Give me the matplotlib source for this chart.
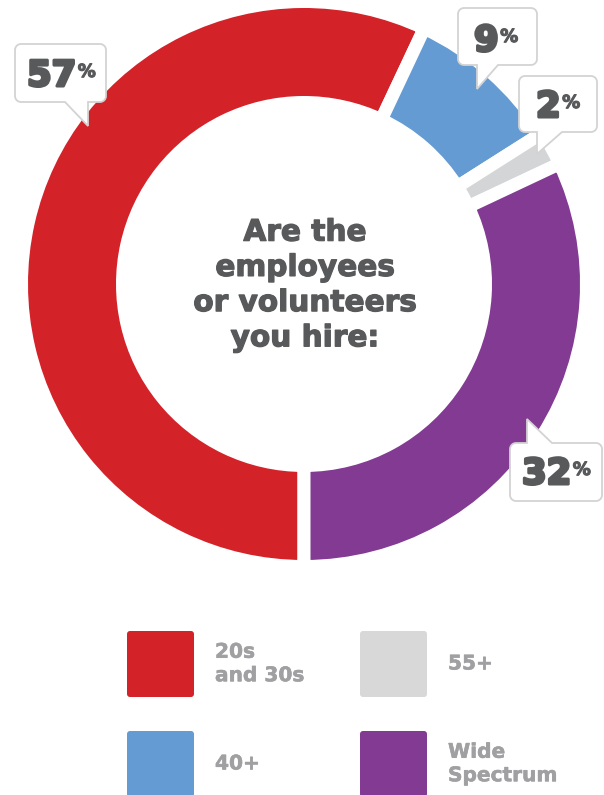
import matplotlib
matplotlib.use("Agg")
import matplotlib.pyplot as plt
from matplotlib.patches import FancyBboxPatch, Polygon
import matplotlib.patheffects as pe
import numpy as np

# ---- data ----
categories = ["20s\nand 30s", "40+", "55+", "Wide\nSpectrum"]
values = [57, 9, 2, 32]
colors = ["#D42229", "#659BD3", "#D4D5D7", "#823A93"]
legend_colors = ["#D42229", "#659BD3", "#D8D8D8", "#823A93"]
title_text = "Are the\nemployees\nor volunteers\nyou hire:"

W, H = 604, 795
fig = plt.figure(figsize=(W / 100, H / 100), dpi=100)
ax = fig.add_axes([0, 0, 1, 1])

def Y(py):
    return H - py

CX, CY = 304, 284
R_OUT, R_IN = 276, 188
GAP_PX = 13
lw_pt = GAP_PX * 72 / 100

ax.pie(values, colors=colors, startangle=-90, counterclock=False,
       center=(CX, Y(CY)), radius=R_OUT + GAP_PX / 2,
       wedgeprops=dict(width=(R_OUT - R_IN) + GAP_PX, edgecolor="white",
                       linewidth=lw_pt, joinstyle="miter"))

ax.set_xlim(0, W)
ax.set_ylim(0, H)
ax.set_aspect("equal")
ax.axis("off")

TXT = "#58595B"
FONT = "DejaVu Sans"

# center title
ax.text(CX + 1, Y(285), title_text, ha="center", va="center", fontsize=21.3,
        fontweight="bold", color=TXT, family=FONT, linespacing=1.27,
        path_effects=[pe.withStroke(linewidth=0.9, foreground=TXT)])

# ---- callouts ----
def callout(x0, y0, x1, y1, tail, r=6):
    side, xa, xb, tx, ty = tail
    pts = []
    def arc(cx, cy, a0, a1):
        for a in np.linspace(np.radians(a0), np.radians(a1), 8):
            pts.append((cx + r * np.cos(a), cy + r * np.sin(a)))
    arc(x0 + r, y0 + r, 180, 270)
    if side == "top":
        pts += [(xa, y0), (tx, ty), (xb, y0)]
    arc(x1 - r, y0 + r, 270, 360)
    arc(x1 - r, y1 - r, 0, 90)
    if side == "bottom":
        pts += [(xb, y1), (tx, ty), (xa, y1)]
    arc(x0 + r, y1 - r, 90, 180)
    poly = Polygon([(px, Y(py)) for px, py in pts], closed=True,
                   facecolor="white", edgecolor="#D3D3D3", linewidth=1.3,
                   zorder=5)
    ax.add_patch(poly)

labels = [f"{v}" for v in values]
callouts = [
    ((15, 44, 106, 102), ("bottom", 65, 88, 88, 126), (27, 86)),
    ((458, 8, 537, 65), ("bottom", 477, 498, 477, 89), (474, 51)),
    ((519, 76, 597, 132), ("bottom", 537, 562, 537, 154), (536, 117)),
    ((510, 443, 602, 501), ("top", 527, 552, 527, 419), (522, 484)),
]
for lab, (box, tail, (bx, by)) in zip(labels, callouts):
    callout(*box, tail)
    t = ax.text(bx, Y(by), lab, ha="left", va="baseline", fontsize=25.5,
                fontweight="bold", color=TXT, family=FONT, zorder=6,
                path_effects=[pe.withStroke(linewidth=2.2, foreground=TXT)])
    fig.canvas.draw()
    bb = t.get_window_extent()
    ax.text(bb.x1 + 1.5, Y(by - 9), "%", ha="left", va="baseline", fontsize=13,
            fontweight="bold", color=TXT, family=FONT, zorder=6,
            path_effects=[pe.withStroke(linewidth=0.8, foreground=TXT)])

# ---- legend ----
LEG_TXT = "#A0A0A2"
positions = [(127, 631), (127, 731), (360, 631), (360, 731)]
for (lx, ly), c, name in zip(positions, legend_colors, categories):
    sq = FancyBboxPatch((lx, Y(ly + 66)), 67, 66,
                        boxstyle="round,pad=0,rounding_size=3",
                        facecolor=c, edgecolor="none", zorder=3)
    ax.add_patch(sq)
    ax.text(lx + 88, Y(ly + 33), name, ha="left", va="center", fontsize=14.5,
            fontweight="bold", color=LEG_TXT, family=FONT, linespacing=1.3,
            path_effects=[pe.withStroke(linewidth=0.4, foreground=LEG_TXT)])

fig.savefig("out.png", dpi=100)
